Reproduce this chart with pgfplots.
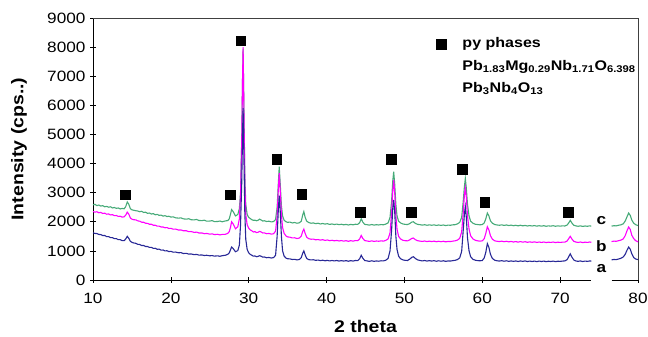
\documentclass[border=0pt]{standalone}
\usepackage{fontspec}
\setmainfont{Liberation Sans}[FakeStretch=1.15]
\usepackage{pgfplots}
\pgfplotsset{compat=1.18}
\usepackage{pgfplotstable}
\definecolor{cA}{RGB}{40,40,150}
\definecolor{cB}{RGB}{255,0,255}
\definecolor{cC}{RGB}{70,170,120}

\pgfplotstableread{
x y
10.0 2580
10.25 2600
10.5 2555
10.75 2575
11.0 2540
11.25 2555
11.5 2515
11.75 2530
12.0 2500
12.25 2515
12.5 2475
12.75 2490
13.0 2460
13.25 2475
13.5 2440
13.75 2460
14.0 2445
14.2 2520
14.4 2680
14.6 2600
14.8 2450
15.0 2410
15.25 2395
15.5 2380
15.75 2370
16.0 2345
16.25 2360
16.5 2320
16.75 2330
17.0 2290
17.25 2300
17.5 2265
17.75 2280
18.0 2240
18.25 2255
18.5 2220
18.75 2230
19.0 2195
19.25 2210
19.5 2180
19.75 2190
20.0 2160
20.3 2170
20.6 2135
21.0 2125
21.3 2135
21.6 2100
22.0 2090
22.3 2105
22.6 2070
23.0 2065
23.3 2080
23.6 2045
24.0 2040
24.3 2055
24.6 2020
25.0 2025
25.3 2040
25.6 2005
26.0 2010
26.3 2025
26.6 2000
27.0 2030
27.3 2040
27.5 2100
27.65 2250
27.8 2420
28.0 2350
28.3 2200
28.6 2250
28.8 2450
28.95 3000
29.1 4800
29.2 6800
29.28 7950
29.38 6000
29.5 3600
29.62 2600
29.8 2250
30.0 2150
30.2 2110
30.4 2070
30.6 2050
30.8 2055
31.0 2035
31.2 2050
31.4 2090
31.6 2060
31.8 2025
32.0 2035
32.3 2010
32.6 2020
32.9 1995
33.2 2010
33.45 2080
33.65 2500
33.8 3300
33.92 3890
34.05 3300
34.2 2550
34.35 2200
34.55 2050
34.8 2000
35.0 1980
35.3 1990
35.6 1960
35.9 1975
36.2 1950
36.5 1965
36.75 2020
36.95 2250
37.08 2350
37.25 2150
37.45 2020
37.7 1975
38.0 1950
38.3 1960
38.6 1935
38.9 1950
39.2 1925
39.5 1940
39.8 1920
40.1 1935
40.4 1910
40.7 1925
41.0 1905
41.3 1920
41.6 1900
41.9 1915
42.2 1895
42.5 1910
42.8 1890
43.1 1910
43.4 1895
43.7 1915
44.0 1910
44.25 1970
44.45 2100
44.65 1990
44.9 1910
45.2 1900
45.5 1885
45.8 1905
46.1 1885
46.4 1900
46.7 1890
47.0 1905
47.3 1895
47.6 1920
47.9 1960
48.15 2150
48.35 2700
48.5 3400
48.62 3720
48.75 3300
48.9 2600
49.05 2200
49.25 2020
49.5 1960
49.8 1925
50.1 1910
50.4 1905
50.7 1940
50.95 1990
51.15 2000
51.4 1945
51.7 1910
52.0 1900
52.3 1885
52.6 1900
52.9 1880
53.2 1895
53.5 1880
53.8 1895
54.1 1875
54.4 1890
54.7 1875
55.0 1890
55.3 1870
55.6 1885
55.9 1880
56.2 1895
56.5 1900
56.8 1925
57.1 1980
57.35 2150
57.55 2700
57.7 3200
57.82 3490
57.95 3150
58.1 2600
58.3 2200
58.5 2020
58.8 1950
59.1 1915
59.4 1905
59.7 1895
60.0 1905
60.25 1960
60.45 2100
60.65 2300
60.85 2200
61.05 2030
61.3 1950
61.6 1905
61.9 1890
62.2 1880
62.5 1895
62.8 1875
63.1 1890
63.4 1870
63.7 1885
64.0 1865
64.3 1880
64.6 1860
64.9 1880
65.2 1860
65.5 1875
65.8 1855
66.1 1870
66.4 1855
66.7 1870
67.0 1850
67.3 1865
67.6 1850
67.9 1865
68.2 1845
68.5 1860
68.8 1850
69.1 1865
69.4 1845
69.7 1860
70.0 1850
70.3 1860
70.6 1855
70.9 1890
71.1 1960
71.3 2050
71.5 1960
71.75 1880
72.0 1860
72.3 1845
72.6 1860
72.9 1840
73.2 1855
73.5 1845
73.8 1860
74.0 1850
75.0 nan
76.6 1850
76.9 1865
77.2 1860
77.5 1880
77.8 1895
78.1 1930
78.35 2020
78.6 2180
78.8 2300
79.0 2220
79.2 2060
79.45 1950
79.7 1900
80.0 1870
}\dataC

\pgfplotstableread{
x y
10.0 2350
10.25 2330
10.5 2345
10.75 2310
11.0 2320
11.25 2285
11.5 2295
11.75 2260
12.0 2270
12.25 2235
12.5 2245
12.75 2210
13.0 2215
13.25 2185
13.5 2190
13.75 2160
14.0 2170
14.2 2230
14.4 2330
14.6 2260
14.8 2130
15.0 2090
15.25 2070
15.5 2065
15.75 2030
16.0 2020
16.25 1985
16.5 1985
16.75 1950
17.0 1945
17.25 1915
17.5 1915
17.75 1880
18.0 1880
18.25 1850
18.5 1850
18.75 1820
19.0 1820
19.25 1795
19.5 1800
19.75 1770
20.0 1775
20.3 1745
20.6 1750
21.0 1715
21.3 1720
21.6 1690
22.0 1690
22.3 1660
22.6 1665
23.0 1635
23.3 1645
23.6 1615
24.0 1615
24.3 1590
24.6 1600
25.0 1575
25.3 1585
25.6 1560
26.0 1570
26.3 1550
26.6 1565
27.0 1570
27.3 1600
27.5 1660
27.65 1800
27.8 2000
28.0 1930
28.3 1760
28.6 1830
28.8 2100
28.95 2900
29.1 4700
29.2 6800
29.28 8000
29.38 5900
29.5 3300
29.62 2250
29.8 1900
30.0 1780
30.2 1720
30.4 1690
30.6 1650
30.8 1660
31.0 1630
31.2 1640
31.4 1670
31.6 1650
31.8 1615
32.0 1620
32.3 1590
32.6 1600
32.9 1575
33.2 1590
33.45 1680
33.65 2200
33.8 3100
33.92 3670
34.05 3050
34.2 2250
34.35 1800
34.55 1600
34.8 1510
35.0 1480
35.3 1470
35.6 1445
35.9 1450
36.2 1425
36.5 1440
36.75 1510
36.95 1680
37.08 1750
37.25 1600
37.45 1470
37.7 1420
38.0 1400
38.3 1405
38.6 1380
38.9 1390
39.2 1370
39.5 1385
39.8 1360
40.1 1375
40.4 1350
40.7 1365
41.0 1345
41.3 1360
41.6 1340
41.9 1355
42.2 1335
42.5 1350
42.8 1330
43.1 1350
43.4 1335
43.7 1355
44.0 1350
44.25 1410
44.45 1530
44.65 1430
44.9 1355
45.2 1340
45.5 1325
45.8 1345
46.1 1325
46.4 1340
46.7 1330
47.0 1345
47.3 1335
47.6 1360
47.9 1410
48.15 1620
48.35 2300
48.5 3050
48.62 3440
48.75 3000
48.9 2200
49.05 1750
49.25 1500
49.5 1410
49.8 1365
50.1 1350
50.4 1345
50.7 1380
50.95 1430
51.15 1440
51.4 1385
51.7 1350
52.0 1335
52.3 1325
52.6 1340
52.9 1320
53.2 1335
53.5 1320
53.8 1335
54.1 1315
54.4 1330
54.7 1315
55.0 1330
55.3 1310
55.6 1325
55.9 1320
56.2 1335
56.5 1345
56.8 1370
57.1 1430
57.35 1650
57.55 2300
57.7 2900
57.82 3160
57.95 2850
58.1 2200
58.3 1750
58.5 1520
58.8 1410
59.1 1365
59.4 1345
59.7 1335
60.0 1345
60.25 1420
60.45 1600
60.65 1830
60.85 1720
61.05 1520
61.3 1400
61.6 1345
61.9 1330
62.2 1320
62.5 1335
62.8 1315
63.1 1330
63.4 1310
63.7 1325
64.0 1305
64.3 1320
64.6 1300
64.9 1320
65.2 1300
65.5 1315
65.8 1295
66.1 1310
66.4 1295
66.7 1310
67.0 1290
67.3 1305
67.6 1290
67.9 1305
68.2 1285
68.5 1300
68.8 1290
69.1 1305
69.4 1285
69.7 1300
70.0 1290
70.3 1300
70.6 1300
70.9 1340
71.1 1420
71.3 1500
71.5 1410
71.75 1330
72.0 1305
72.3 1290
72.6 1305
72.9 1285
73.2 1300
73.5 1290
73.8 1305
74.0 1295
75.0 nan
76.6 1320
76.9 1335
77.2 1330
77.5 1350
77.8 1370
78.1 1410
78.35 1520
78.6 1700
78.8 1820
79.0 1740
79.2 1540
79.45 1420
79.7 1350
80.0 1310
}\dataB

\pgfplotstableread{
x y
10.0 1620
10.25 1600
10.5 1595
10.75 1565
11.0 1560
11.25 1525
11.5 1530
11.75 1490
12.0 1490
12.25 1455
12.5 1455
12.75 1420
13.0 1420
13.25 1385
13.5 1385
13.75 1350
14.0 1350
14.2 1410
14.4 1500
14.6 1430
14.8 1330
15.0 1295
15.25 1270
15.5 1260
15.75 1225
16.0 1220
16.25 1185
16.5 1185
16.75 1150
17.0 1150
17.25 1120
17.5 1120
17.75 1085
18.0 1090
18.25 1055
18.5 1060
18.75 1025
19.0 1030
19.25 1000
19.5 1005
19.75 975
20.0 985
20.3 955
20.6 960
21.0 935
21.3 940
21.6 910
22.0 915
22.3 890
22.6 895
23.0 870
23.3 880
23.6 855
24.0 860
24.3 840
24.6 850
25.0 830
25.3 840
25.6 820
26.0 830
26.3 815
26.6 835
27.0 850
27.3 880
27.5 930
27.65 1030
27.8 1130
28.0 1080
28.3 970
28.6 1010
28.8 1200
28.95 1900
29.1 3300
29.2 4900
29.28 5900
29.38 4300
29.5 2300
29.62 1400
29.8 1050
30.0 930
30.2 880
30.4 850
30.6 820
30.8 825
31.0 800
31.2 810
31.4 835
31.6 815
31.8 785
32.0 790
32.3 765
32.6 775
32.9 755
33.2 770
33.45 850
33.65 1500
33.8 2400
33.92 2900
34.05 2350
34.2 1500
34.35 1000
34.55 820
34.8 750
35.0 730
35.3 725
35.6 705
35.9 710
36.2 690
36.5 705
36.75 770
36.95 930
37.08 1000
37.25 860
37.45 740
37.7 700
38.0 690
38.3 695
38.6 675
38.9 685
39.2 665
39.5 680
39.8 660
40.1 675
40.4 655
40.7 670
41.0 655
41.3 670
41.6 650
41.9 665
42.2 650
42.5 665
42.8 645
43.1 665
43.4 650
43.7 670
44.0 665
44.25 730
44.45 850
44.65 750
44.9 670
45.2 655
45.5 640
45.8 660
46.1 640
46.4 655
46.7 645
47.0 660
47.3 655
47.6 680
47.9 740
48.15 1000
48.35 1700
48.5 2450
48.62 2750
48.75 2350
48.9 1500
49.05 1050
49.25 820
49.5 730
49.8 690
50.1 675
50.4 670
50.7 720
50.95 780
51.15 800
51.4 740
51.7 690
52.0 670
52.3 655
52.6 670
52.9 650
53.2 665
53.5 650
53.8 665
54.1 645
54.4 660
54.7 645
55.0 660
55.3 640
55.6 655
55.9 650
56.2 665
56.5 675
56.8 700
57.1 760
57.35 980
57.55 1700
57.7 2250
57.82 2520
57.95 2150
58.1 1450
58.3 1000
58.5 800
58.8 710
59.1 680
59.4 665
59.7 660
60.0 670
60.25 760
60.45 950
60.65 1250
60.85 1120
61.05 880
61.3 740
61.6 680
61.9 660
62.2 650
62.5 665
62.8 645
63.1 660
63.4 640
63.7 655
64.0 640
64.3 655
64.6 635
64.9 655
65.2 640
65.5 655
65.8 635
66.1 650
66.4 635
66.7 650
67.0 630
67.3 650
67.6 635
67.9 650
68.2 630
68.5 645
68.8 635
69.1 650
69.4 630
69.7 645
70.0 640
70.3 650
70.6 655
70.9 700
71.1 800
71.3 900
71.5 790
71.75 690
72.0 655
72.3 640
72.6 655
72.9 635
73.2 650
73.5 640
73.8 655
74.0 650
75.0 nan
76.6 690
76.9 705
77.2 700
77.5 720
77.8 745
78.1 790
78.35 880
78.6 1030
78.8 1130
79.0 1060
79.2 900
79.45 770
79.7 720
80.0 700
}\dataA

\begin{document}
\begin{tikzpicture}
\begin{axis}[
  scale only axis,
  width=545bp, height=262bp,
  xmin=10, xmax=80, ymin=0, ymax=9000,
  xtick={10,20,...,80},
  ytick={0,1000,...,9000},
  axis line style={draw=none},
  tick pos=left,
  tick align=center,
  major tick length=6bp,
  tick style={black, line width=0.7bp},
  scaled ticks=false,
  /pgf/number format/1000 sep={},
  /pgf/number format/assume math mode=true,
  ticklabel style={font=\fontsize{15}{17}\selectfont},
  xticklabel style={yshift=-7bp},
  yticklabel style={xshift=-1bp},
  xlabel={2 theta},
  ylabel={Intensity (cps..)},
  every axis y label/.style={at={(axis description cs:0,0.5)}, xshift=-74bp, rotate=90, anchor=center, font=\bfseries\fontsize{17}{19}\selectfont},
  every axis x label/.style={at={(axis description cs:0.5,0)}, yshift=-46bp, anchor=center, font=\bfseries\fontsize{17}{19}\selectfont},
  unbounded coords=jump,
  clip=false,
]
\draw[black, line width=0.8bp] (axis cs:10,0) -- (axis cs:10,9000);
\draw[black, line width=0.8bp] (axis cs:10,0) -- (axis cs:74,0);
\draw[black, line width=0.8bp] (axis cs:76.6,0) -- (axis cs:80,0);
\draw[black!75, line width=0.8bp] (axis cs:10,9000) -- (axis cs:80,9000) -- (axis cs:80,0);

\addplot[cC, line width=1.1bp] table {\dataC};
\addplot[cB, line width=1.1bp] table {\dataB};
\addplot[cA, line width=1.1bp] table {\dataA};

\addplot[only marks, mark=square*, mark size=4.8bp, black] coordinates {
(14.1,2930) (27.6,2930) (28.95,8220) (33.6,4150) (36.8,2940)
(44.3,2320) (48.3,4140) (50.9,2320) (57.4,3800) (60.3,2680) (71.0,2320)
(54.7,8110)
};

\node[anchor=west, font=\bfseries\fontsize{14}{16}\selectfont] at (axis cs:57.0,8110) {py phases};
\node[anchor=west, font=\bfseries\fontsize{14}{16}\selectfont] at (axis cs:57.0,7320) {Pb\textsubscript{1.83}Mg\textsubscript{0.29}Nb\textsubscript{1.71}O\textsubscript{6.398}};
\node[anchor=west, font=\bfseries\fontsize{14}{16}\selectfont] at (axis cs:57.0,6580) {Pb\textsubscript{3}Nb\textsubscript{4}O\textsubscript{13}};

\node[font=\bfseries\fontsize{15}{17}\selectfont] at (axis cs:75.3,2030) {c};
\node[font=\bfseries\fontsize{15}{17}\selectfont] at (axis cs:75.3,1150) {b};
\node[font=\bfseries\fontsize{15}{17}\selectfont] at (axis cs:75.3,400) {a};
\end{axis}
\pgfresetboundingbox
\path ([shift={(-93bp,-57bp)}]current axis.south west) rectangle ([shift={(10bp,18bp)}]current axis.north east);
\end{tikzpicture}
\end{document}
